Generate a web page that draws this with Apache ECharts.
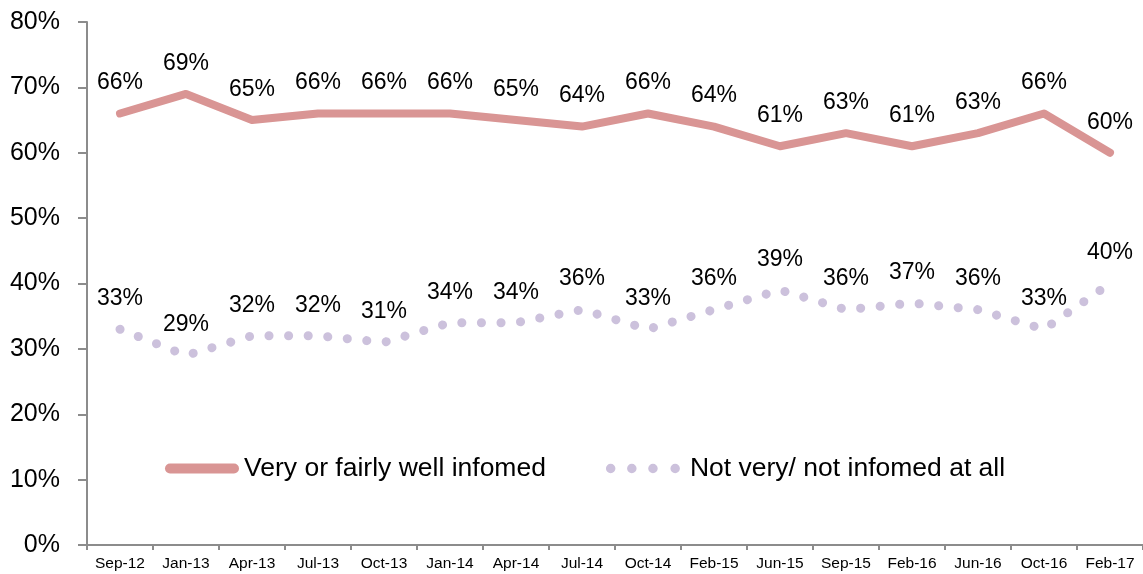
<!DOCTYPE html>
<html>
<head>
<meta charset="utf-8">
<script src="https://cdn.jsdelivr.net/npm/echarts@6/dist/echarts.min.js"></script>
<style>
  html, body { margin: 0; padding: 0; background: #fff; }
  #chart { width: 1143px; height: 574px; }
</style>
</head>
<body>
<div id="chart"></div>
<script>
// Survey waves
const categories = ['Sep-12', 'Jan-13', 'Apr-13', 'Jul-13', 'Oct-13', 'Jan-14', 'Apr-14', 'Jul-14',
  'Oct-14', 'Feb-15', 'Jun-15', 'Sep-15', 'Feb-16', 'Jun-16', 'Oct-16', 'Feb-17'];

// Share of respondents (%)
const wellInformed = [66, 69, 65, 66, 66, 66, 65, 64, 66, 64, 61, 63, 61, 63, 66, 60];
const notInformed = [33, 29, 32, 32, 31, 34, 34, 36, 33, 36, 39, 36, 37, 36, 33, 40];

const seriesNames = ['Very or fairly well infomed', 'Not very/ not infomed at all'];

const FONT = 'Liberation Sans, Arial, sans-serif';
const RED = '#d99594';
const LILAC = '#ccc1dc';
const AXIS_GREY = '#8c8c8c';

// Legend icons: a capsule for the solid line, a row of four dots for the dotted one
const capsuleIcon = 'path://M5,0 H69 A5,5 0 0 1 69,10 H5 A5,5 0 0 1 5,0 Z';
const dotsIcon = 'path://' + [5, 25, 45, 66].map(cx =>
  `M${cx - 4.5},5 a4.5,4.5 0 1 0 9,0 a4.5,4.5 0 1 0 -9,0 Z`).join(' ');

const chart = echarts.init(document.getElementById('chart'), null, { renderer: 'canvas' });

const labelStyle = {
  show: true,
  position: 'top',
  distance: 19,
  formatter: p => p.value + '%',
  color: '#000',
  fontFamily: FONT,
  fontSize: 23
};

chart.setOption({
  animation: false,
  backgroundColor: '#fff',
  grid: { left: 87, right: 0, top: 22, bottom: 29 },
  legend: {
    left: 165,
    top: 455,
    padding: 0,
    itemGap: 60,
    itemWidth: 74,
    itemHeight: 11,
    textStyle: { fontFamily: FONT, fontSize: 26.5, color: '#000' },
    data: [
      { name: seriesNames[0], icon: capsuleIcon, itemStyle: { color: RED } },
      {
        name: seriesNames[1], icon: dotsIcon, itemStyle: { color: LILAC },
        textStyle: { padding: [0, 0, 0, 5] }
      }
    ]
  },
  xAxis: {
    type: 'category',
    data: categories,
    boundaryGap: true,
    axisLine: { lineStyle: { color: AXIS_GREY, width: 2 } },
    axisTick: { show: true, length: 5, lineStyle: { color: AXIS_GREY, width: 2 } },
    axisLabel: { color: '#000', fontFamily: FONT, fontSize: 15.5, margin: 11, interval: 0 }
  },
  yAxis: {
    type: 'value',
    min: 0,
    max: 80,
    interval: 10,
    splitLine: { show: false },
    axisLine: { show: true, lineStyle: { color: AXIS_GREY, width: 2 } },
    axisTick: { show: true, length: 9, lineStyle: { color: AXIS_GREY, width: 2 } },
    axisLabel: { color: '#000', fontFamily: FONT, fontSize: 25, margin: 27, formatter: '{value}%' }
  },
  series: [
    {
      name: seriesNames[0],
      type: 'line',
      data: wellInformed,
      symbol: 'circle',
      symbolSize: 0,
      color: RED,
      lineStyle: { color: RED, width: 8, cap: 'round', join: 'round' },
      label: labelStyle
    },
    {
      name: seriesNames[1],
      type: 'line',
      data: notInformed,
      symbol: 'circle',
      symbolSize: 0,
      color: LILAC,
      lineStyle: { color: LILAC, width: 9, type: [0.1, 19.5], cap: 'round', join: 'round' },
      label: labelStyle
    }
  ]
});
</script>
</body>
</html>
